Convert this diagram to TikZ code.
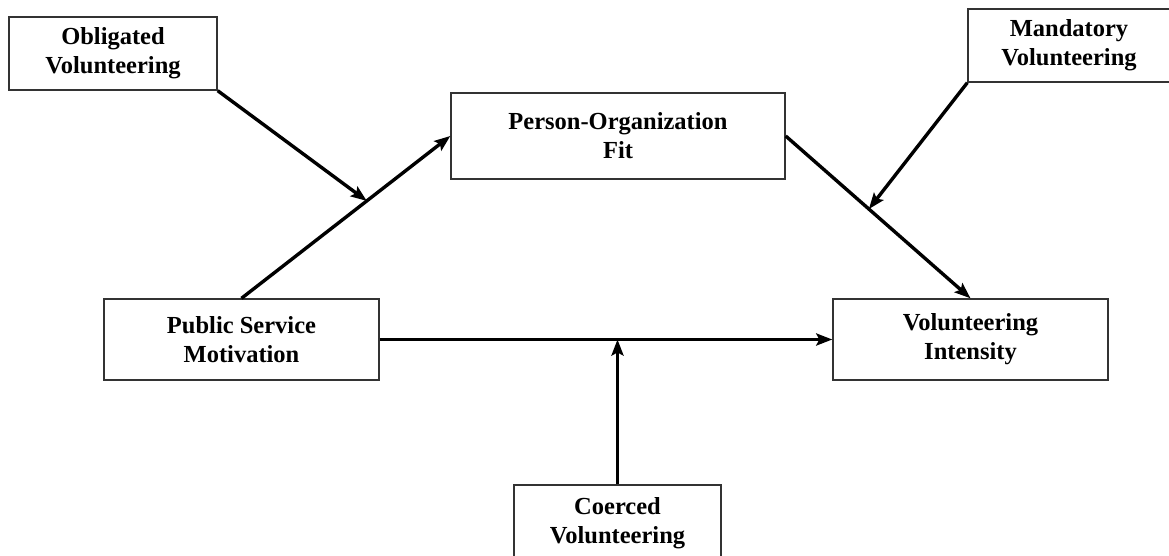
\documentclass[tikz,border=0pt]{standalone}
\usepackage{fontspec}
\setmainfont{Liberation Serif}
\usetikzlibrary{arrows.meta}
\begin{document}
\begin{tikzpicture}[x=1pt,y=-1pt,
  box/.style={draw=black!80,line width=1.4pt,fill=white,align=center,inner sep=0pt,
    font=\fontsize{24.5}{29}\selectfont\bfseries},
  conn/.style={line width=3.4pt,-{Stealth[length=16pt,width=12pt,inset=3pt]}}]
\useasboundingbox[fill=white] (0,0) rectangle (1169,556);
\node[box,minimum width=208pt,minimum height=73pt] (obl) at (113,53.5) {Obligated\\Volunteering};
\node[box,minimum width=202pt,minimum height=73pt] (man) at (1069,45.5) {Mandatory\\Volunteering};
\node[box,minimum width=334pt,minimum height=86pt] (po) at (618,136) {Person-Organization\\Fit};
\node[box,minimum width=275pt,minimum height=81pt] (psm) at (241.5,339.5) {Public Service\\Motivation};
\node[box,minimum width=275pt,minimum height=81pt] (vi) at (970.5,339.5) {Volunteering\\Intensity};
\node[box,minimum width=207pt,minimum height=76pt] (coe) at (617.5,523) {Coerced\\Volunteering};
\path (psm.north) -- (po.west) coordinate[pos=0.6] (m1);
\path (po.east) -- (vi.north) coordinate[pos=0.45] (m2);
\draw[conn] (psm.north) -- (po.west);
\draw[conn] (po.east) -- (vi.north);
\draw[conn] (psm.east) -- (vi.west);
\draw[conn] (obl.south east) -- (m1);
\draw[conn] (man.south west) -- (m2);
\draw[conn] (coe.north) -- (coe.north |- psm.east);
\end{tikzpicture}
\end{document}
